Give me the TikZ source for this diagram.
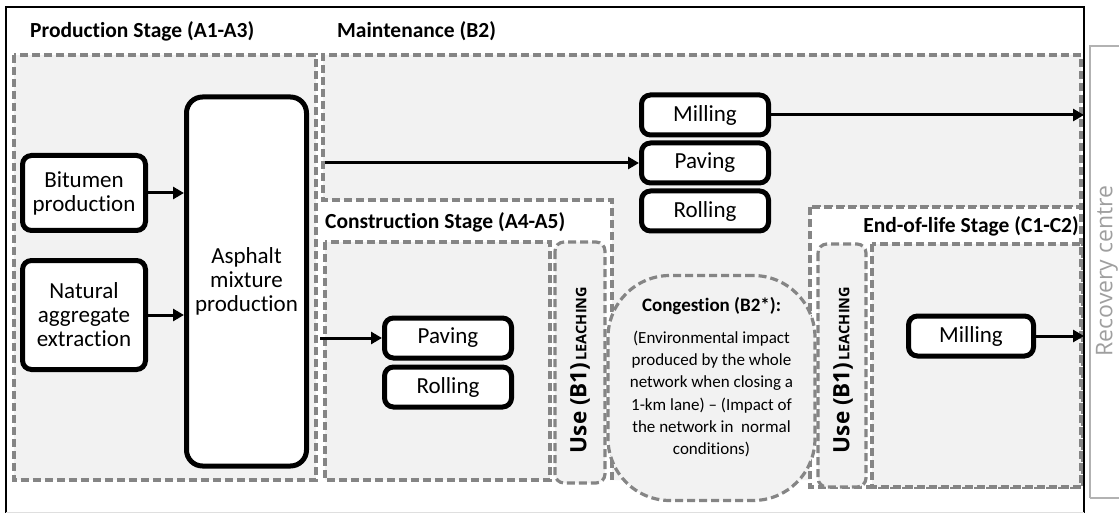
\documentclass[tikz,border=0pt]{standalone}
\usepackage{fontspec}
\setmainfont{Carlito}[Ligatures={TeX,NoCommon}]
\newfontfamily\opensans{Open Sans}
\usetikzlibrary{positioning,arrows.meta}

\definecolor{stagegray}{HTML}{F2F2F2}
\definecolor{dashgray}{HTML}{858585}

\tikzset{
  stagebox/.style={draw=dashgray, line width=3.2pt, dash pattern=on 8pt off 4pt, fill=stagegray},
  procbox/.style={draw=black, line width=5pt, rounded corners=9pt, fill=white, align=center,
    font=\fontsize{23}{24}\selectfont, inner sep=0pt, minimum width=127pt, minimum height=40pt},
  stagelabel/.style={font=\bfseries\fontsize{21.5}{24}\selectfont, inner sep=0pt},
  usetext/.style={rotate=90, inner sep=0pt},
  arr/.style={-{Triangle[length=11pt,width=12pt]}, line width=3pt}
}

\begin{document}
\begin{tikzpicture}[x=1pt, y=-1pt]
\useasboundingbox (0,0) rectangle (1119,513);

% Frame and recovery centre
\draw[gray!60, line width=1.4pt] (1090,498) -- (1090,46) -- (1130,46);
\draw[gray!60, line width=1.4pt] (1090,498) -- (1130,498);
\node[usetext, font=\opensans\fontsize{23}{24}\selectfont, text=gray!75] (recovery) at (1107,271) {Recovery centre};
\draw[line width=1.8pt] (6,513) -- (6,7) -- (1084,7) -- (1084,513);
\draw[gray!25, line width=1pt] (6,512) -- (1084,512);

% Stage areas
\draw[stagebox] (14,55) rectangle (316,480);
\fill[stagegray] (323,55) -- (1081,55) -- (1081,207) -- (810,207) -- (810,480)
  -- (612,480) -- (612,200) -- (323,200) -- cycle;
\draw[stagebox, fill=none] (612,480) -- (612,200) -- (323,200) -- (323,55)
  -- (1081,55) -- (1081,207) -- (810,207);
\draw[stagebox, fill=white] (810,207) rectangle (1081,487);
\draw[stagebox] (325,242) rectangle (550,480);
\draw[stagebox, rounded corners=9pt] (555,242) rectangle (605,483);
\draw[stagebox] (872,244) rectangle (1081,487);
\draw[stagebox, rounded corners=9pt] (818,244) rectangle (866,487);

% Stage labels
\node[stagelabel, anchor=west] (prodlabel) at (30,31) {Production Stage (A1-A3)};
\node[stagelabel, anchor=west] (maintlabel) at (337,31) {Maintenance (B2)};
\node[stagelabel, anchor=west] (constlabel) at (325,222) {Construction Stage (A4-A5)};
\node[stagelabel, anchor=east] (eollabel) at (1079,226) {End-of-life Stage (C1-C2)};

% Use stage
\node[usetext] (useconst) at (580,370) {{\opensans\bfseries\fontsize{22.5}{24}\selectfont Use (B1)}
  {\opensans\bfseries\fontsize{14.5}{16}\selectfont LEACHING}};
\node[usetext] (useeol) at (843,370) {{\opensans\bfseries\fontsize{22.5}{24}\selectfont Use (B1)}
  {\opensans\bfseries\fontsize{14.5}{16}\selectfont LEACHING}};

% Congestion
\node[stagebox, rounded corners=62pt, minimum width=207pt, minimum height=225pt] (cong) at (711.5,388) {};
\node[align=center, inner sep=0pt, font=\fontsize{17}{22.2}\selectfont] (congtext) at (711.5,377)
  {{\bfseries\fontsize{19}{22}\selectfont Congestion (B2*):}\\[10pt]
   (Environmental impact\\ produced by the whole\\ network when closing a\\
   1-km lane) – (Impact of\\ the network in~ normal\\ conditions)};

% Production
\node[procbox, minimum width=123pt, minimum height=75pt] (bitumen) at (84,193) {Bitumen\\production};
\node[procbox, minimum width=123pt, minimum height=109pt] (natural) at (84,315) {Natural\\aggregate\\extraction};
\node[procbox, rounded corners=16pt, minimum width=120pt, minimum height=369pt] (asphalt) at (246.5,281.5) {Asphalt\\mixture\\production};

% Maintenance
\node[procbox] (mmill) at (705,115) {Milling};
\node[procbox, below=3pt of mmill] (mpave) {Paving};
\node[procbox, below=3pt of mpave] (mroll) {Rolling};

% Construction
\node[procbox] (cpave) at (448,338) {Paving};
\node[procbox, below=4pt of cpave] (croll) {Rolling};

% End-of-life
\node[procbox, minimum width=125pt] (emill) at (971,336) {Milling};

% Connectors
\coordinate (maintin) at (325,0);
\coordinate (constin) at (320,0);
\coordinate (recin) at (1084,0);
\draw[arr] (bitumen) -- (bitumen -| asphalt.west);
\draw[arr] (natural) -- (natural -| asphalt.west);
\draw[arr] (maintin |- mpave) -- (mpave);
\draw[arr] (constin |- cpave) -- (cpave);
\draw[arr] (mmill) -- (recin |- mmill);
\draw[arr] (emill) -- (recin |- emill);

\end{tikzpicture}
\end{document}
